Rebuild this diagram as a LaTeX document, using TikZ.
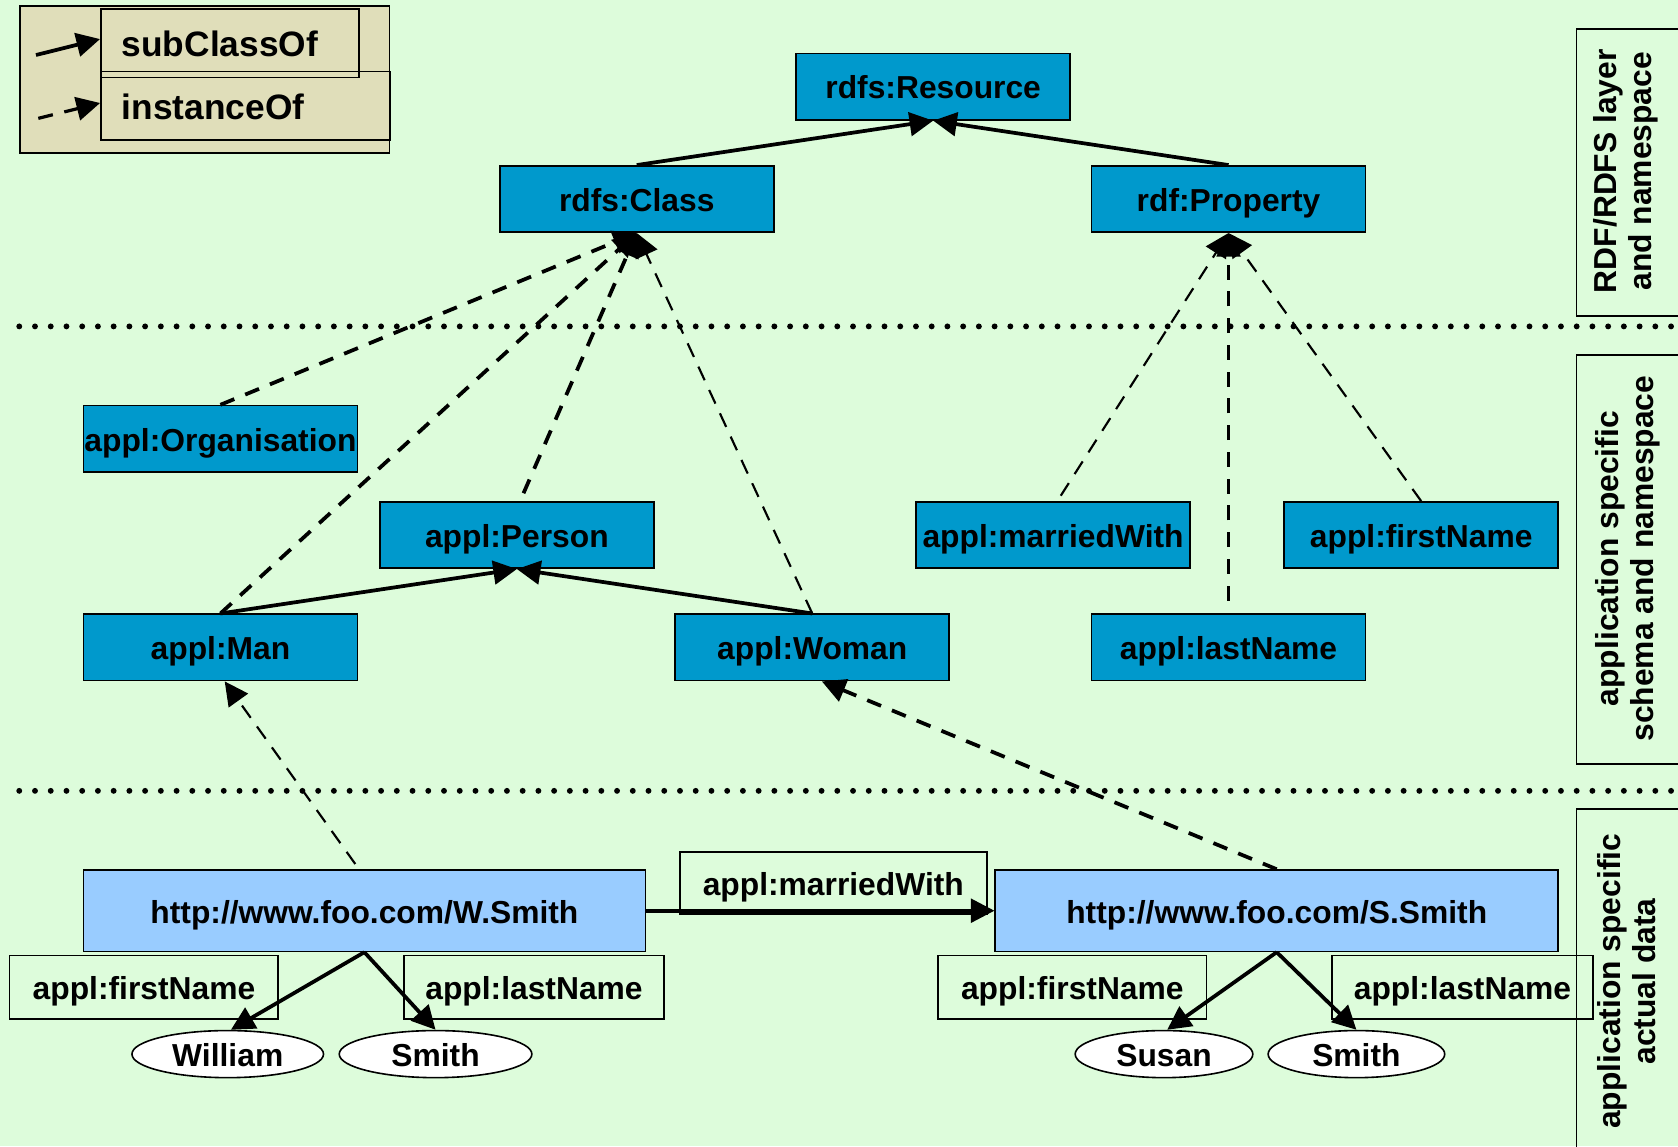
\documentclass[tikz,border=0pt]{standalone}
\usepackage{fontspec}
\setmainfont{Liberation Sans}
\usetikzlibrary{arrows.meta,shapes.geometric}
\definecolor{bg}{RGB}{221,252,219}
\definecolor{clsblue}{RGB}{0,153,204}
\definecolor{instblue}{RGB}{153,204,255}
\definecolor{legendfill}{RGB}{224,222,186}
\tikzset{
  nodefont/.style={font=\fontsize{29.7}{33}\selectfont\bfseries},
  boxtext/.style={nodefont, text height=23pt, text depth=0pt},
  clsnode/.style={boxtext, draw=black, line width=1.5pt, fill=clsblue,
    minimum width=256pt, minimum height=62pt, inner sep=0pt},
  instnode/.style={boxtext, draw=black, line width=1.5pt, fill=instblue,
    minimum height=76pt, inner sep=0pt},
  relbox/.style={boxtext, draw=black, line width=1.5pt,
    minimum height=59pt, inner sep=0pt},
  litnode/.style={boxtext, ellipse, draw=black, line width=1.5pt, fill=white,
    minimum height=44pt, inner sep=0pt},
  legendrow/.style={font=\fontsize{33}{36}\selectfont\bfseries, draw=black,
    line width=1.5pt, minimum height=64pt, inner xsep=19.5pt, inner ysep=0pt,
    text height=25pt, text depth=0pt, align=left, anchor=north west},
  tip/.style={-{Triangle[length=22pt,width=22pt]}},
  subarrow/.style={tip, line width=3.5pt},
  isathick/.style={tip, line width=3.5pt, dash pattern=on 14pt off 11pt},
  isathin/.style={tip, line width=2pt, dash pattern=on 14pt off 10pt},
  relarrow/.style={tip, line width=3.5pt},
  layerline/.style={line width=5.5pt, line cap=round, dash pattern=on 0pt off 14.7pt},
  layerbox/.style={line width=1.5pt},
  layertext/.style={nodefont, rotate=90, align=center}
}
\begin{document}
\begin{tikzpicture}[x=1pt,y=-1pt]
\useasboundingbox (0,0) rectangle (1568,1071);
\clip (0,0) rectangle (1568,1071);
\fill[bg] (0,0) rectangle (1568,1071);

% layer separators
\draw[layerline] (18,305) -- (1575,305);
\draw[layerline] (18,739) -- (1575,739);

% layer captions on the right
\draw[layerbox] (1590,27) -- (1473,27) -- (1473,295) -- (1590,295);
\draw[layerbox] (1590,332) -- (1473,332) -- (1473,714) -- (1590,714);
\draw[layerbox] (1590,756) -- (1473,756) -- (1473,1090);
\node[layertext] (capA) at (1519,160) {RDF/RDFS layer\\and namespace};
\node[layertext] (capB) at (1521,522) {application specific\\schema and namespace};
\node[layertext] (capC) at (1520,917) {application specific\\actual data};

% legend
\draw[line width=1.5pt, fill=legendfill] (18.7,5.6) rectangle (364,142.7);
\node[legendrow, text width=231pt] (linst) at (93.5,66) {instanceOf};
\node[legendrow, text width=202pt, minimum height=63.9pt] (lsub) at (93.5,7.8) {subClassOf};
\coordinate (lsubfrom) at (33.6,51.4);
\coordinate (linstfrom) at (35.8,110.6);
\draw[subarrow] (lsubfrom) -- ([yshift=4pt]lsub.west);
\draw[isathick, line width=3pt] (linstfrom) -- ([yshift=2.5pt]linst.west);

% RDF/RDFS layer
\node[clsnode] (res) at (872,81) {rdfs:Resource};
\node[clsnode] (cls) at (595,186) {rdfs:Class};
\node[clsnode] (prop) at (1148,186) {rdf:Property};

% schema layer
\node[clsnode] (org) at (206,410) {appl:Organisation};
\node[clsnode] (person) at (483,500) {appl:Person};
\node[clsnode] (mw) at (984,500) {appl:marriedWith};
\node[clsnode] (fn) at (1328,500) {appl:firstName};
\node[clsnode] (man) at (206,605) {appl:Man};
\node[clsnode] (woman) at (759,605) {appl:Woman};
\node[clsnode] (ln) at (1148,605) {appl:lastName};

% data layer
\node[instnode, minimum width=525pt] (ws) at (340.5,851) {http://www.foo.com/W.Smith};
\node[instnode, minimum width=526pt] (ss) at (1193,851) {http://www.foo.com/S.Smith};
\node[relbox, minimum width=287pt, minimum height=58pt] (mwl) at (778.7,825.3) {appl:marriedWith};
\node[relbox, minimum width=251pt] (lf1) at (134.5,922.5) {appl:firstName};
\node[relbox, minimum width=243pt] (ll1) at (499,922.5) {appl:lastName};
\node[relbox, minimum width=251pt] (lf2) at (1002,922.5) {appl:firstName};
\node[relbox, minimum width=244pt] (ll2) at (1366.6,922.5) {appl:lastName};
\node[litnode, minimum width=179pt] (william) at (212.8,985) {William};
\node[litnode, minimum width=180pt] (smith1) at (407,985) {Smith};
\node[litnode, minimum width=166pt] (susan) at (1087.7,985) {Susan};
\node[litnode, minimum width=165pt] (smith2) at (1267.5,985) {Smith};

% subClassOf
\draw[subarrow] (cls.north) -- (res.south);
\draw[subarrow] (prop.north) -- (res.south);
\draw[subarrow] (man.north) -- (person.south);
\draw[subarrow] (woman.north) -- (person.south);

% instanceOf: classes
\draw[isathick] (org.north) -- (cls.south);
\draw[isathick] (man.north) -- (cls.south);
\draw[isathick, shorten <=8pt] ([xshift=3pt]person.north) -- (cls.south);
\draw[isathin] (woman.north) -- (cls.south);

% instanceOf: properties
\draw[isathin, shorten <=6pt] ([xshift=4pt]mw.north) -- (prop.south);
\draw[isathin] (fn.north) -- (prop.south);
\draw[isathick, shorten <=12pt] (ln.north) -- (prop.south);

% instanceOf: resources
\draw[isathin, shorten <=6pt] ([xshift=-5pt]ws.north) -- ([xshift=4pt]man.south);
\draw[isathick] (ss.north) -- ([xshift=9pt]woman.south);

% property values
\draw[relarrow] (ws.east) -- (ss.west);
\draw[relarrow] (ws.south) -- ([xshift=3pt]william.north);
\draw[relarrow] (ws.south) -- (smith1.north);
\draw[relarrow] (ss.south) -- ([xshift=3pt]susan.north);
\draw[relarrow] (ss.south) -- (smith2.north);
\end{tikzpicture}
\end{document}
